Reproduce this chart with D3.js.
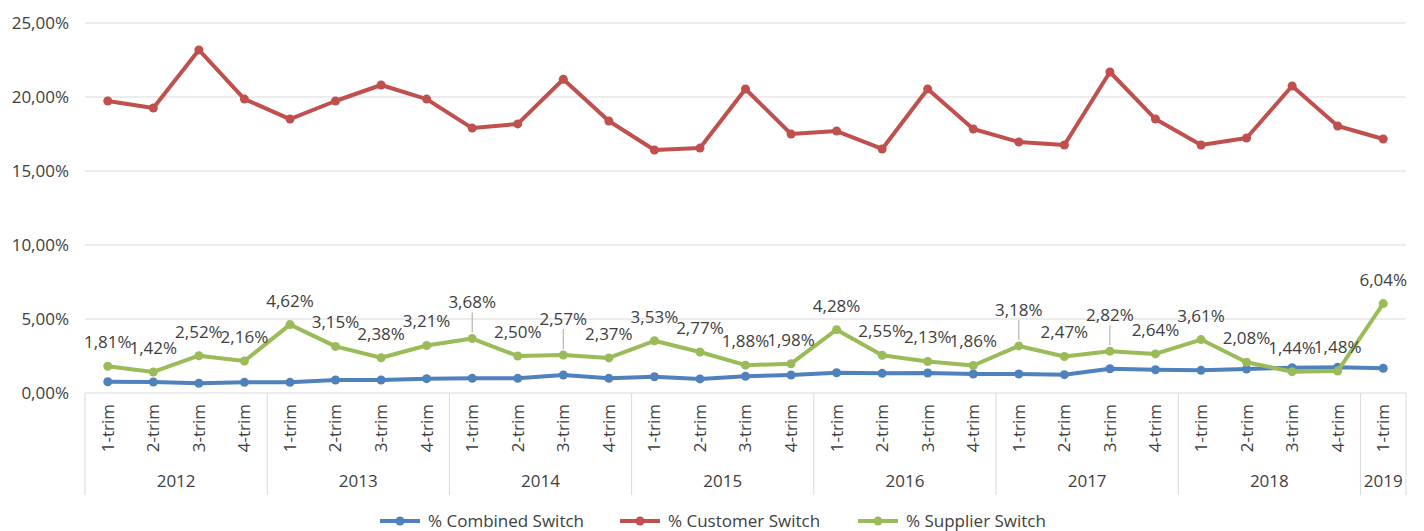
<!DOCTYPE html>
<html lang="en">
<head>
<meta charset="UTF-8">
<script src="https://d3js.org/d3.v7.min.js"></script>
<title>Switching rates</title>
<style>
  body { margin: 0; background: #fff; }
  text { font-family: "Open Sans", "Noto Sans", sans-serif; fill: #404040; }
</style>
</head>
<body>
<svg id="chart" width="1424" height="531"></svg>
<script>
// data
const years = ["2012", "2013", "2014", "2015", "2016", "2017", "2018", "2019"];
const quarterNames = ["1-trim", "2-trim", "3-trim", "4-trim"];
const quarters = [];
years.forEach(y => {
  const n = y === "2019" ? 1 : 4;
  for (let i = 0; i < n; i++) quarters.push({ year: y, q: quarterNames[i], key: y + "-" + quarterNames[i] });
});

const combined = [0.76, 0.74, 0.66, 0.72, 0.72, 0.88, 0.88, 0.97, 0.99, 0.99, 1.22, 0.99,
  1.10, 0.95, 1.13, 1.22, 1.37, 1.33, 1.35, 1.28, 1.28, 1.24, 1.64, 1.57,
  1.53, 1.62, 1.71, 1.74, 1.67];
const customer = [19.73, 19.26, 23.18, 19.86, 18.51, 19.73, 20.81, 19.86, 17.90, 18.18, 21.20, 18.38,
  16.42, 16.55, 20.54, 17.50, 17.70, 16.49, 20.54, 17.84, 16.96, 16.76, 21.69, 18.51,
  16.76, 17.23, 20.74, 18.04, 17.16];
const supplier = [1.81, 1.42, 2.52, 2.16, 4.62, 3.15, 2.38, 3.21, 3.68, 2.50, 2.57, 2.37,
  3.53, 2.77, 1.88, 1.98, 4.28, 2.55, 2.13, 1.86, 3.18, 2.47, 2.82, 2.64,
  3.61, 2.08, 1.44, 1.48, 6.04];
const yTicks = [0, 5, 10, 15, 20, 25];

const series = [
  { name: "% Combined Switch", values: combined, color: "#4F81BD" },
  { name: "% Customer Switch", values: customer, color: "#C0504D" },
  { name: "% Supplier Switch", values: supplier, color: "#9BBB59" }
];

const svg = d3.select("svg#chart");
const margin = { top: 23, left: 85, right: 18, bottom: 138 };
const width = +svg.attr("width");
const height = +svg.attr("height");
const chartWidth = width - margin.left - margin.right;
const chartHeight = height - margin.top - margin.bottom;
const fs = "17px";

const fmt = v => d3.format(".2f")(v).replace(".", ",") + "%";

const x = d3.scaleBand().domain(quarters.map(d => d.key)).range([0, chartWidth]);
const y = d3.scaleLinear().domain([0, 25]).range([chartHeight, 0]);

const g = svg.append("g").attr("transform", "translate(" + margin.left + "," + margin.top + ")");

// gridlines
g.append("g").selectAll("line").data(yTicks.filter(d => d > 0)).join("line")
  .attr("x1", 0).attr("x2", chartWidth)
  .attr("y1", d => y(d)).attr("y2", d => y(d))
  .attr("stroke", "#d9d9d9").attr("stroke-width", 1);

// y axis labels
g.append("g").selectAll("text").data(yTicks).join("text")
  .attr("x", -16).attr("y", d => y(d)).attr("dy", "0.35em")
  .attr("text-anchor", "end").style("font-size", fs)
  .text(d => fmt(d));

// x axis line
g.append("line").attr("x1", 0).attr("x2", chartWidth)
  .attr("y1", chartHeight).attr("y2", chartHeight)
  .attr("stroke", "#d9d9d9");

// year separators
const yearStarts = years.map(yr => quarters.findIndex(q => q.year === yr));
const sepX = yearStarts.map(i => x(quarters[i].key)).concat([chartWidth]);
g.append("g").selectAll("line").data(sepX).join("line")
  .attr("x1", d => d).attr("x2", d => d)
  .attr("y1", chartHeight).attr("y2", chartHeight + 102)
  .attr("stroke", "#d9d9d9");

// quarter labels
g.append("g").selectAll("text").data(quarters).join("text")
  .attr("transform", d => "translate(" + (x(d.key) + x.bandwidth() / 2) + "," + (chartHeight + 11) + ") rotate(-90)")
  .attr("text-anchor", "end").attr("dy", "0.35em")
  .style("font-size", fs)
  .text(d => d.q);

// year labels
g.append("g").selectAll("text").data(years).join("text")
  .attr("x", (d, i) => (sepX[i] + sepX[i + 1]) / 2)
  .attr("y", chartHeight + 88).attr("dy", "0.35em")
  .attr("text-anchor", "middle").style("font-size", fs)
  .text(d => d);

// lines and markers
const line = d3.line()
  .x((d, i) => x(quarters[i].key) + x.bandwidth() / 2)
  .y(d => y(d));

series.forEach(s => {
  g.append("path").datum(s.values)
    .attr("fill", "none").attr("stroke", s.color)
    .attr("stroke-width", 4).attr("stroke-linejoin", "round")
    .attr("d", line);
  g.append("g").selectAll("circle").data(s.values).join("circle")
    .attr("cx", (d, i) => x(quarters[i].key) + x.bandwidth() / 2)
    .attr("cy", d => y(d)).attr("r", 4.5)
    .attr("fill", s.color);
});

// supplier data labels
const leaderIdx = [8, 10, 20, 22];
const labels = g.append("g");
supplier.forEach((v, i) => {
  const cx = x(quarters[i].key) + x.bandwidth() / 2;
  const lift = leaderIdx.includes(i) ? 36 : 24;
  if (leaderIdx.includes(i)) {
    labels.append("line")
      .attr("x1", cx).attr("x2", cx)
      .attr("y1", y(v) - lift + 10).attr("y2", y(v) - 6)
      .attr("stroke", "#a6a6a6").attr("stroke-width", 1);
  }
  labels.append("text")
    .attr("x", cx).attr("y", y(v) - lift).attr("dy", "0.35em")
    .attr("text-anchor", "middle").style("font-size", fs)
    .text(fmt(v));
});

// legend
const legendX = [380, 620, 858];
const legend = svg.append("g").attr("transform", "translate(0,521)");
series.forEach((s, i) => {
  const lg = legend.append("g").attr("transform", "translate(" + legendX[i] + ",0)");
  lg.append("line").attr("x1", 0).attr("x2", 40).attr("y1", 0).attr("y2", 0)
    .attr("stroke", s.color).attr("stroke-width", 4);
  lg.append("circle").attr("cx", 20).attr("cy", 0).attr("r", 4.5).attr("fill", s.color);
  lg.append("text").attr("x", 48).attr("dy", "0.35em").style("font-size", fs).text(s.name);
});
</script>
</body>
</html>
